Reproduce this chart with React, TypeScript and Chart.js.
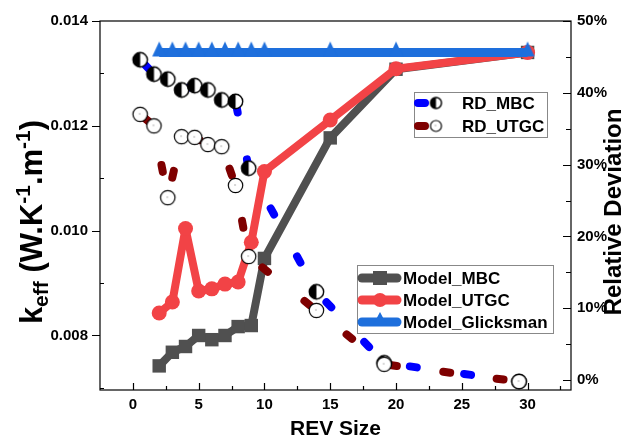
import React, { useEffect, useRef } from 'react';
import { Chart, registerables } from 'chart.js';

Chart.register(...registerables);

// ---------------- data ----------------
const MODEL_X = [2, 3, 4, 5, 6, 7, 8, 9, 10, 15, 20, 30];
const MODEL_MBC = [0.00742, 0.00768, 0.00779, 0.008, 0.00792, 0.008, 0.00817, 0.00819, 0.00947, 0.01177, 0.01308, 0.0134];
const MODEL_UTGC = [0.00843, 0.00864, 0.01004, 0.00885, 0.00889, 0.00898, 0.00902, 0.00978, 0.01113, 0.01211, 0.01309, 0.0134];
const MODEL_GLICKSMAN = [0.0134, 0.0134, 0.0134, 0.0134, 0.0134, 0.0134, 0.0134, 0.0134, 0.0134, 0.0134, 0.0134, 0.0134];

const RD_X = [0.55, 1.6, 2.65, 3.7, 4.7, 5.7, 6.75, 7.8, 8.8, 13.95, 19.1, 29.35];
const RD_MBC = [44.6, 42.6, 41.9, 40.4, 41.0, 40.4, 39.0, 38.8, 29.5, 12.3, 2.4, -0.2];
const RD_UTGC = [37.0, 35.4, 25.4, 33.9, 33.8, 32.8, 32.5, 27.1, 17.2, 9.7, 2.2, -0.2];

const X_TICKS = [0, 5, 10, 15, 20, 25, 30];
const X_MINOR = [2.5, 7.5, 12.5, 17.5, 22.5, 27.5, 32.5];
const K_TICKS = [0.008, 0.01, 0.012, 0.014];
const K_MINOR = [0.007, 0.009, 0.011, 0.013];
const RD_TICKS = [0, 10, 20, 30, 40, 50];
const RD_MINOR = [5, 15, 25, 35, 45];

const FONT = "'Liberation Sans', Arial, sans-serif";
const C_MBC = '#505050';
const C_UTGC = '#f24346';
const C_GLICK = '#1e6fdc';
const C_RDMBC = '#0000ff';
const C_RDUTGC = '#7f0000';

function makeHalf(r: number) {
  const c = document.createElement('canvas');
  const s = Math.ceil(r * 2 + 4);
  c.width = s; c.height = s;
  const g = c.getContext('2d')!;
  const m = s / 2;
  g.beginPath(); g.arc(m, m, r, 0, Math.PI * 2); g.fillStyle = '#fff'; g.fill();
  g.beginPath(); g.moveTo(m, m - r); g.arc(m, m, r, -Math.PI / 2, Math.PI / 2, true); g.closePath();
  g.fillStyle = '#000'; g.fill();
  g.beginPath(); g.arc(m, m, r, 0, Math.PI * 2); g.lineWidth = 1.4; g.strokeStyle = '#000'; g.stroke();
  return c;
}

function makeOpen(r: number) {
  const c = document.createElement('canvas');
  const s = Math.ceil(r * 2 + 4);
  c.width = s; c.height = s;
  const g = c.getContext('2d')!;
  const m = s / 2;
  g.beginPath(); g.arc(m, m, r, 0, Math.PI * 2); g.fillStyle = '#fff'; g.fill();
  g.lineWidth = 1.2; g.strokeStyle = '#000'; g.stroke();
  g.fillStyle = '#666'; g.fillRect(Math.floor(m) - 0.5, Math.floor(m) - 0.5, 1, 1);
  return c;
}

function makeTri(color: string) {
  const c = document.createElement('canvas');
  c.width = 16; c.height = 24;
  const g = c.getContext('2d')!;
  g.fillStyle = color;
  g.beginPath(); g.moveTo(8, 1); g.lineTo(15, 16); g.lineTo(1, 16); g.closePath(); g.fill();
  return c;
}

const pts = (xs: number[], ys: number[]) => xs.map((x, i) => ({ x, y: ys[i] }));

export default function App() {
  const ref = useRef<HTMLCanvasElement | null>(null);

  useEffect(() => {
    const canvas = ref.current!;
    const half = makeHalf(7.2);
    const open = makeOpen(7.2);
    const halfS = makeHalf(5.5);
    const openS = makeOpen(5.5);
    const tri = makeTri(C_GLICK);

    const decor = {
      id: 'decor',
      afterDraw(chart: any) {
        const ctx = chart.ctx as CanvasRenderingContext2D;
        const a = chart.chartArea;
        const sx = chart.scales.x, sy = chart.scales.y, sr = chart.scales.y1;
        ctx.save();
        // frame
        ctx.strokeStyle = '#000';
        ctx.lineWidth = 1.2;
        ctx.strokeRect(a.left, a.top, a.right - a.left, a.bottom - a.top);
        ctx.beginPath();
        X_TICKS.forEach(v => { const p = Math.round(sx.getPixelForValue(v)) + 0.5; ctx.moveTo(p, a.bottom); ctx.lineTo(p, a.bottom - 7); });
        X_MINOR.forEach(v => { const p = Math.round(sx.getPixelForValue(v)) + 0.5; ctx.moveTo(p, a.bottom); ctx.lineTo(p, a.bottom - 4); });
        K_TICKS.forEach(v => { const p = Math.round(sy.getPixelForValue(v)) + 0.5; ctx.moveTo(a.left, p); ctx.lineTo(a.left - 8, p); });
        K_MINOR.forEach(v => { const p = Math.round(sy.getPixelForValue(v)) + 0.5; ctx.moveTo(a.left, p); ctx.lineTo(a.left + 4, p); });
        RD_TICKS.forEach(v => { const p = Math.round(sr.getPixelForValue(v)) + 0.5; ctx.moveTo(a.right, p); ctx.lineTo(a.right - 8, p); });
        RD_MINOR.forEach(v => { const p = Math.round(sr.getPixelForValue(v)) + 0.5; ctx.moveTo(a.right, p); ctx.lineTo(a.right - 5, p); });
        ctx.stroke();

        // axis titles
        ctx.fillStyle = '#000';
        ctx.textBaseline = 'alphabetic';
        ctx.textAlign = 'center';
        ctx.font = `bold 21px ${FONT}`;
        ctx.fillText('REV Size', (a.left + a.right) / 2, 435);

        // left title with sub/superscripts (reads bottom to top)
        const big = `bold 31px ${FONT}`;
        const small = `bold 21px ${FONT}`;
        const segs: [string, string, number][] = [
          ['k', big, 0], ['eff', small, 6], [' (W.K', big, 0], ['-1', small, -12], ['.m', big, 0], ['-1', small, -12], [')', big, 0],
        ];
        ctx.save();
        let tw = 0;
        segs.forEach(([t, f]) => { ctx.font = f; tw += ctx.measureText(t).width; });
        ctx.translate(42, 222);
        ctx.rotate(-Math.PI / 2);
        ctx.textAlign = 'left';
        let cx = -tw / 2;
        segs.forEach(([t, f, dy]) => { ctx.font = f; ctx.fillText(t, cx, dy); cx += ctx.measureText(t).width; });
        ctx.restore();

        ctx.save();
        ctx.translate(621, 212);
        ctx.rotate(-Math.PI / 2);
        ctx.textAlign = 'center';
        ctx.font = `bold 24px ${FONT}`;
        ctx.fillText('Relative Deviation', 0, 0);
        ctx.restore();

        // legend 1 (RD)
        ctx.fillStyle = '#fff';
        ctx.fillRect(414, 92, 133, 45);
        ctx.strokeStyle = '#888';
        ctx.lineWidth = 1;
        ctx.strokeRect(414.5, 92.5, 133, 45);
        const rdRows: [number, string, HTMLCanvasElement, string][] = [
          [103, C_RDMBC, halfS, 'RD_MBC'],
          [126, C_RDUTGC, openS, 'RD_UTGC'],
        ];
        rdRows.forEach(([y, col, img, label]) => {
          ctx.strokeStyle = col; ctx.lineWidth = 8; ctx.lineCap = 'round';
          ctx.beginPath(); ctx.moveTo(418, y); ctx.lineTo(425, y); ctx.stroke();
          ctx.drawImage(img, 436 - img.width / 2, y - img.height / 2);
          ctx.fillStyle = '#000'; ctx.font = `bold 17px ${FONT}`; ctx.textAlign = 'left'; ctx.textBaseline = 'middle';
          ctx.fillText(label, 462, y + 1);
        });

        // legend 2 (models)
        ctx.fillStyle = '#fff';
        ctx.fillRect(357, 265, 196, 68);
        ctx.strokeStyle = '#888';
        ctx.lineWidth = 1;
        ctx.strokeRect(357.5, 265.5, 196, 68);
        const mRows: [number, string, string, string][] = [
          [278, C_MBC, 'rect', 'Model_MBC'],
          [300, C_UTGC, 'circle', 'Model_UTGC'],
          [322, C_GLICK, 'triangle', 'Model_Glicksman'],
        ];
        mRows.forEach(([y, col, shape, label]) => {
          ctx.strokeStyle = col; ctx.lineWidth = 9; ctx.lineCap = 'round';
          ctx.beginPath(); ctx.moveTo(362, y); ctx.lineTo(397, y); ctx.stroke();
          ctx.fillStyle = col;
          ctx.beginPath();
          if (shape === 'rect') ctx.rect(373, y - 7, 14, 14);
          else if (shape === 'circle') ctx.arc(380, y, 7, 0, Math.PI * 2);
          else { ctx.moveTo(380, y - 10); ctx.lineTo(387, y + 3); ctx.lineTo(373, y + 3); ctx.closePath(); }
          ctx.fill();
          ctx.fillStyle = '#000'; ctx.font = `bold 17px ${FONT}`; ctx.textAlign = 'left'; ctx.textBaseline = 'middle';
          ctx.fillText(label, 403, y + 1);
        });
        ctx.restore();
      },
    };

    const tickFont = { family: FONT, size: 15, weight: 'bold' as const };

    const chart = new Chart(canvas, {
      type: 'line',
      data: {
        datasets: [
          { label: 'RD_UTGC pts', data: pts(RD_X, RD_UTGC), yAxisID: 'y1', showLine: false, pointStyle: open as any, pointRadius: 7, borderColor: '#000', backgroundColor: '#fff' },
          { label: 'RD_MBC pts', data: pts(RD_X, RD_MBC), yAxisID: 'y1', showLine: false, pointStyle: half as any, pointRadius: 7, borderColor: '#000', backgroundColor: '#fff' },
          { label: 'RD_UTGC', data: pts(RD_X, RD_UTGC), yAxisID: 'y1', borderColor: C_RDUTGC, borderWidth: 8, borderDash: [7, 46.8], borderDashOffset: -4, borderCapStyle: 'round', pointRadius: 0, tension: 0 },
          { label: 'RD_MBC', data: pts(RD_X, RD_MBC), yAxisID: 'y1', borderColor: C_RDMBC, borderWidth: 8, borderDash: [7, 47.8], borderDashOffset: -5.5, borderCapStyle: 'round', pointRadius: 0, tension: 0 },
          { label: 'Model_Glicksman', data: pts(MODEL_X, MODEL_GLICKSMAN), yAxisID: 'y', borderColor: C_GLICK, backgroundColor: C_GLICK, borderWidth: 9, pointStyle: tri as any, pointRadius: 9, pointBorderWidth: 0, tension: 0 },
          { label: 'Model_UTGC', data: pts(MODEL_X, MODEL_UTGC), yAxisID: 'y', borderColor: C_UTGC, backgroundColor: C_UTGC, borderWidth: 8, borderJoinStyle: 'round', pointStyle: 'circle', pointRadius: 7.5, pointBorderWidth: 0, tension: 0 },
          { label: 'Model_MBC', data: pts(MODEL_X, MODEL_MBC), yAxisID: 'y', borderColor: C_MBC, backgroundColor: C_MBC, borderWidth: 8, borderJoinStyle: 'miter', pointStyle: 'rect', pointRadius: 9.5, pointBorderWidth: 0, tension: 0 },
        ],
      },
      options: {
        responsive: false,
        animation: false,
        devicePixelRatio: 1,
        layout: { padding: { top: 16, left: 0, right: 0, bottom: 0 } },
        plugins: { legend: { display: false }, tooltip: { enabled: false } },
        scales: {
          x: {
            type: 'linear', position: 'bottom', min: -2.5, max: 33.3,
            grid: { display: false, drawTicks: false }, border: { display: false },
            ticks: { font: tickFont, color: '#000', padding: 6, autoSkip: false, maxRotation: 0, includeBounds: false },
            afterBuildTicks: (s: any) => { s.ticks = X_TICKS.map(v => ({ value: v })); },
            afterFit: (s: any) => { s.height = 48; },
          },
          y: {
            type: 'linear', position: 'left', min: 0.00696, max: 0.014,
            grid: { display: false, drawTicks: false }, border: { display: false },
            ticks: { font: tickFont, color: '#000', padding: 12, autoSkip: false, callback: (v: any) => Number(v).toFixed(3) },
            afterBuildTicks: (s: any) => { s.ticks = K_TICKS.map(v => ({ value: v })); },
            afterFit: (s: any) => { s.width = 100; },
          },
          y1: {
            type: 'linear', position: 'right', min: -1.38, max: 50,
            grid: { display: false, drawTicks: false }, border: { display: false },
            ticks: { font: tickFont, color: '#000', padding: 6, autoSkip: false, callback: (v: any) => `${v}%` },
            afterBuildTicks: (s: any) => { s.ticks = RD_TICKS.map(v => ({ value: v })); },
            afterFit: (s: any) => { s.width = 53; },
          },
        },
      },
      plugins: [decor],
    } as any);
    return () => chart.destroy();
  }, []);

  return (
    <div style={{ position: 'fixed', left: 0, top: 0, width: 624, height: 438, background: '#fff' }}>
      <canvas ref={ref} width={624} height={438} style={{ width: 624, height: 438, display: 'block' }} />
    </div>
  );
}
